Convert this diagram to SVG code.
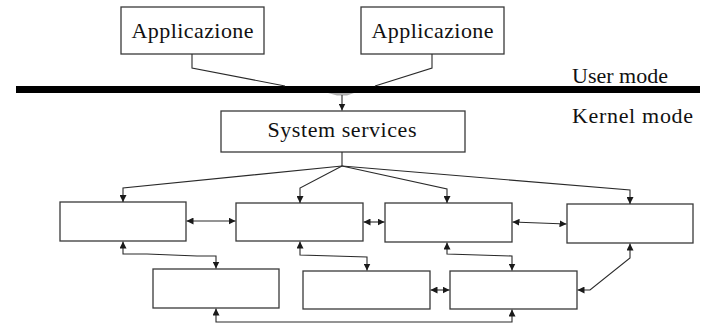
<svg xmlns="http://www.w3.org/2000/svg" width="704" height="325" viewBox="0 0 704 325">
  <style>
    .box { fill: #ffffff; stroke: #3a3a3a; stroke-width: 1.3; }
    .lbl { font-size: 22px; fill: #111111; }
    .wire { fill: none; stroke: #2a2a2a; stroke-width: 1.1; }
    .arr { marker-end: url(#head); }
    .arr2 { marker-start: url(#head); marker-end: url(#head); }
  </style>
  <defs>
    <marker id="head" viewBox="0 0 7 7" refX="7" refY="3.5" markerWidth="7" markerHeight="7" markerUnits="userSpaceOnUse" orient="auto-start-reverse">
      <path d="M0,0 L7,3.5 L0,7 z" fill="#1a1a1a"/>
    </marker>
  </defs>
  <rect width="704" height="325" fill="#ffffff"/>

  <!-- user / kernel boundary -->
  <g id="boundary" font-family="'Liberation Serif', 'DejaVu Serif', serif">
    <rect x="16" y="86" width="684" height="7" fill="#000000"/>
    <text class="lbl" x="572" y="83" textLength="96">User mode</text>
    <text class="lbl" x="572" y="122.5" textLength="121">Kernel mode</text>
  </g>

  <g id="app1" font-family="'Liberation Serif', 'DejaVu Serif', serif">
    <rect class="box" x="121" y="7" width="143" height="47"/>
    <text class="lbl" x="192.5" y="38" text-anchor="middle" textLength="122">Applicazione</text>
  </g>
  <g id="app2" font-family="'Liberation Serif', 'DejaVu Serif', serif">
    <rect class="box" x="361" y="7" width="143" height="47"/>
    <text class="lbl" x="432.5" y="38" text-anchor="middle" textLength="122">Applicazione</text>
  </g>

  <g id="system-services" font-family="'Liberation Serif', 'DejaVu Serif', serif">
    <rect class="box" x="221" y="111" width="244" height="41"/>
    <text class="lbl" x="342" y="137" text-anchor="middle" textLength="149">System services</text>
  </g>

  <g id="module-a"><rect class="box" x="60" y="202" width="126" height="39"/></g>
  <g id="module-b"><rect class="box" x="236" y="203" width="127" height="38"/></g>
  <g id="module-c"><rect class="box" x="385" y="203" width="127" height="39"/></g>
  <g id="module-d"><rect class="box" x="567" y="204" width="126" height="39"/></g>
  <g id="module-e"><rect class="box" x="153" y="269" width="126" height="39"/></g>
  <g id="module-f"><rect class="box" x="303" y="271" width="127" height="38"/></g>
  <g id="module-g"><rect class="box" x="450" y="271" width="127" height="38"/></g>

  <g id="connectors">
    <!-- applications into the boundary -->
    <polyline class="wire" points="192,54 192,68 285,86"/>
    <polyline class="wire" points="432,54 432,68 375,86"/>
    <polygon points="328,93 354,93 347,95.5 337,95.5" fill="#b0b0b0"/>
    <line class="wire arr" x1="342" y1="95" x2="342" y2="110.5"/>

    <!-- system services fan-out -->
    <line class="wire" x1="342" y1="152" x2="342" y2="166"/>
    <polyline class="wire arr" points="342,166 123,188 123,202"/>
    <polyline class="wire arr" points="342,166 300,188 300,203"/>
    <polyline class="wire arr" points="342,166 447,189 447,203"/>
    <polyline class="wire arr" points="342,166 630,190 630,204"/>

    <!-- top row links -->
    <line class="wire arr2" x1="186.5" y1="221" x2="235.5" y2="221"/>
    <line class="wire arr2" x1="363.5" y1="222" x2="384.5" y2="222"/>
    <line class="wire arr2" x1="512.5" y1="222" x2="566.5" y2="224"/>

    <!-- top row to bottom row -->
    <polyline class="wire arr2" points="123,241.5 123,254 147,254 197,256 216,256 216,268.5"/>
    <polyline class="wire arr2" points="300,241.5 300,255 367,257 367,270.5"/>
    <polyline class="wire arr2" points="447,242.5 447,254 512,256 512,270.5"/>
    <polyline class="wire arr2" points="630,243.5 630,258 590,290 577.5,290"/>

    <!-- bottom row links -->
    <line class="wire arr2" x1="430.5" y1="290" x2="449.5" y2="290"/>
    <polyline class="wire arr2" points="216,308.5 216,322 512,322 512,309.5"/>
  </g>
</svg>
